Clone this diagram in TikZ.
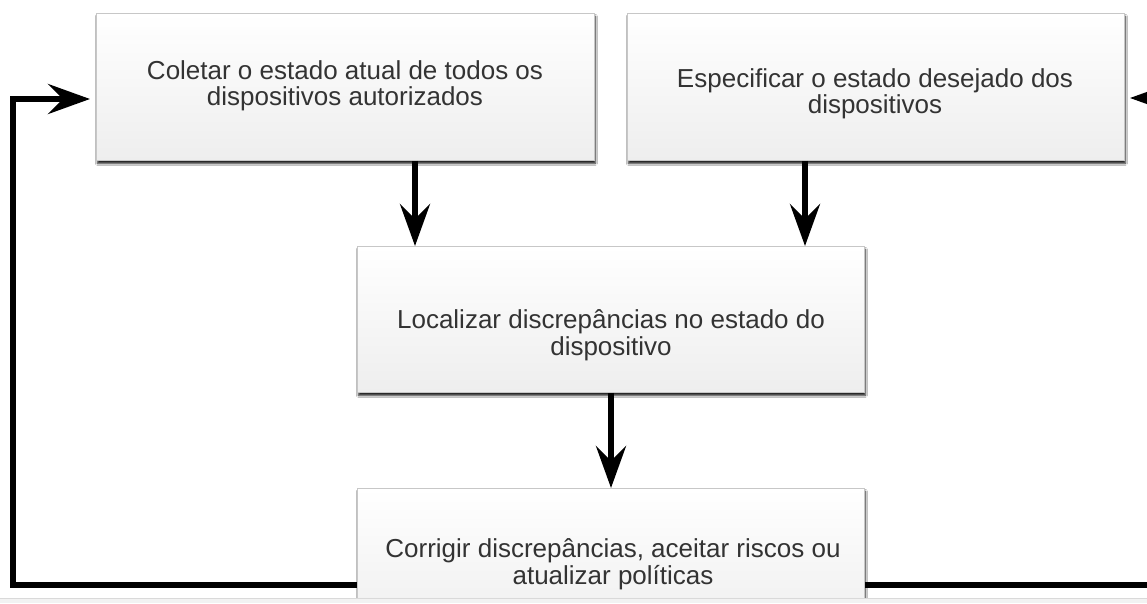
\documentclass[tikz,border=0pt]{standalone}
\usepackage{fontspec}
\setmainfont{Liberation Sans}
\usetikzlibrary{arrows.meta,shadows.blur}
\definecolor{txt}{HTML}{333333}
\definecolor{boxtop}{HTML}{FFFFFF}
\definecolor{boxbot}{HTML}{EEEEEE}
\tikzset{
  stepbox/.style={rectangle, draw=black!22, line width=0.8pt, top color=boxtop, bottom color=boxbot,
    minimum width=#1, inner sep=0pt, anchor=north west,
    blur shadow={shadow xshift=1pt, shadow yshift=-3pt, shadow blur radius=2pt, shadow opacity=90}},
  lbl/.style={text=txt, font=\fontsize{26}{26.5}\selectfont, align=center},
  flow/.style={line width=6pt, -{Stealth[length=42pt,width=30pt,inset=15pt]}},
}
\begin{document}
\begin{tikzpicture}[x=1pt,y=-1pt]
\useasboundingbox (0,0) rectangle (1147,603);
\fill[white] (0,0) rectangle (1147,603);
% feedback loop corners
\coordinate (l1) at (360,585);
\coordinate (l2) at (13,585);
\coordinate (l3) at (13,99);
\coordinate (b1in) at (96,99);
\coordinate (r1) at (860,585);
\coordinate (r2) at (1160,585);
\coordinate (r3) at (1160,98);
\coordinate (b2in) at (1124,98);
\draw[flow, shorten >=6pt, line join=miter] (l1) -- (l2) -- (l3) -- (b1in);
\draw[flow, shorten >=6pt, line join=miter] (r1) -- (r2) -- (r3) -- (b2in);
% boxes
\node[stepbox=498pt, minimum height=147pt] (b1) at (96,13) {};
\node[stepbox=497pt, minimum height=147pt] (b2) at (627,13) {};
\node[stepbox=507pt, minimum height=146pt] (b3) at (357,246) {};
\begin{scope}
\clip (0,0) rectangle (1147,598);
\node[stepbox=507pt, minimum height=147pt] (b4) at (357,488) {};
\end{scope}
\node[lbl] (t1) at (345,86) {Coletar o estado atual de todos os\\dispositivos autorizados};
\node[lbl] (t2) at (875,94) {Especificar o estado desejado dos\\dispositivos};
\node[lbl] (t3) at (611,335) {Localizar discrepâncias no estado do\\dispositivo};
\node[lbl] (t4) at (613,564) {Corrigir discrepâncias, aceitar riscos ou\\atualizar políticas};
% vertical arrows
\draw[flow] (b1.south -| 415,0) -- (b3.north -| 415,0);
\draw[flow] (b2.south -| 805,0) -- (b3.north -| 805,0);
\draw[flow] (b3.south -| 611,0) -- (b4.north -| 611,0);
% bottom strip
\fill[black!5] (0,598) rectangle (1147,603);
\draw[black!15, line width=0.8pt] (0,598) -- (1147,598);
\end{tikzpicture}
\end{document}
